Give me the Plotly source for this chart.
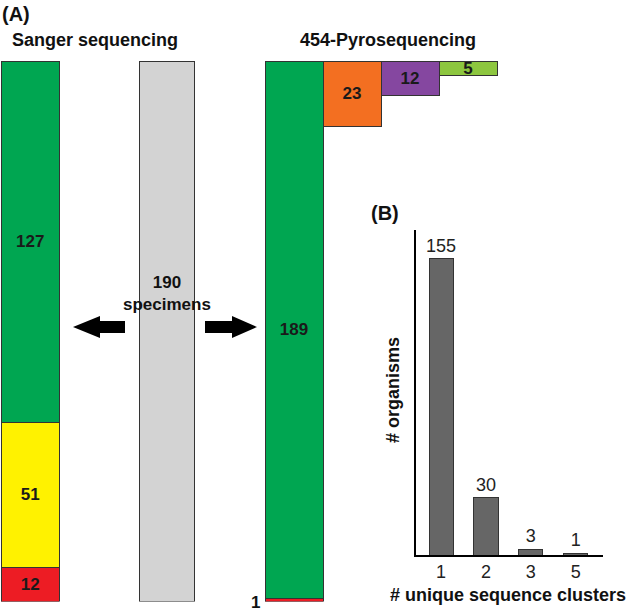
import plotly.graph_objects as go

# panel A counts
total_specimens = 190
sanger_counts = [127, 51, 12]
pyro_counts = [189, 1]
pyro_split = [23, 12, 5]

# panel B
cluster_labels = ["1", "2", "3", "5"]
organisms = [155, 30, 3, 1]

W, H = 628, 614
FONT = "Liberation Sans, Arial, sans-serif"
EDGE = dict(color="#333333", width=1)
NUMFONT = dict(size=17, color="#1a1a1a", weight="bold")


def px(x):
    return x / W


def py(y):
    return 1 - y / H


# column positions in panel A (1 unit = one bar width)
x_sanger, x_all, x_pyro = 0, 2.36, 4.55
x_split = [5.55, 6.55, 7.55]

fig = go.Figure()

sanger_colors = ["#00a651", "#fff200", "#ed1c24"]
for n, c in zip(sanger_counts, sanger_colors):
    fig.add_trace(go.Bar(x=[x_sanger], y=[n], width=1.0, marker=dict(color=c, line=EDGE),
                         text=[str(n)], textposition="inside", insidetextanchor="middle",
                         textangle=0, textfont=NUMFONT))

fig.add_trace(go.Bar(x=[x_all], y=[total_specimens], width=0.95,
                     marker=dict(color="#d3d3d3", line=EDGE)))

pyro_colors = ["#00a651", "#ed1c24"]
for n, c, t in zip(pyro_counts, pyro_colors, [str(pyro_counts[0]), ""]):
    fig.add_trace(go.Bar(x=[x_pyro], y=[n], width=1.0, marker=dict(color=c, line=EDGE),
                         text=[t], textposition="inside", insidetextanchor="middle",
                         textangle=0, textfont=NUMFONT))

split_colors = ["#f36f21", "#8547a0", "#8dc63f"]
for xx, n, c in zip(x_split, pyro_split, split_colors):
    fig.add_trace(go.Bar(x=[xx], y=[n], width=1.0, marker=dict(color=c, line=EDGE),
                         text=[str(n)], textposition="inside", insidetextanchor="middle",
                         textangle=0, textfont=NUMFONT))

fig.add_trace(go.Bar(x=cluster_labels, y=organisms, width=0.54, xaxis="x2", yaxis="y2",
                     marker=dict(color="#666666", line=EDGE),
                     text=[str(v) for v in organisms], textposition="outside", cliponaxis=False,
                     textfont=dict(size=18, color="#222222")))

fig.update_layout(
    width=W, height=H,
    margin=dict(l=0, r=0, t=0, b=0),
    paper_bgcolor="white", plot_bgcolor="rgba(0,0,0,0)",
    barmode="stack", showlegend=False,
    font=dict(family=FONT, color="#111111"),
    uniformtext=dict(minsize=17, mode="show"),
    xaxis=dict(domain=[0, px(500)], range=[-0.52, -0.52 + 500 / 58], visible=False),
    yaxis=dict(domain=[py(601.5), py(61)], range=[total_specimens, 0], visible=False),
    xaxis2=dict(domain=[px(416), px(603)], range=[-0.56, 3.61], anchor="y2",
                showline=True, linecolor="black", linewidth=1.5, ticks="",
                showgrid=False, zeroline=False, tickfont=dict(size=18, color="#222222")),
    yaxis2=dict(domain=[py(555), py(230)], range=[0, 170], anchor="x2",
                showline=True, linecolor="black", linewidth=1.5, showticklabels=False,
                ticks="", showgrid=False, zeroline=False),
)


def label(text, x, y, size=18, angle=0):
    fig.add_annotation(text=text, x=px(x), y=py(y), xref="paper", yref="paper",
                       xanchor="center", yanchor="middle", showarrow=False, textangle=angle,
                       font=dict(size=size, family=FONT, color="#111111"))


label("<b>(A)</b>", 16, 14, size=20)
label("<b>(B)</b>", 385, 213, size=20)
label("<b>Sanger sequencing</b>", 95, 40)
label("<b>454-Pyrosequencing</b>", 388, 40)
label(f"<b>{total_specimens}<br>specimens</b>", 167, 293, size=17)
label("<b># organisms</b>", 393, 390, angle=-90)
label("<b># unique sequence clusters</b>", 508, 595)

# the single odd read next to the thin red slice
fig.add_annotation(text=f"<b>{pyro_counts[1]}</b>", x=x_pyro - 0.5, y=pyro_counts[0] + pyro_counts[1] / 2,
                   xref="x", yref="y", xanchor="right", yanchor="middle", yshift=-2, xshift=-3,
                   showarrow=False, font=dict(size=17, family=FONT, color="#111111"))

# arrows pointing out of the specimen bar
for tip, base, tail in [(73, 100, 125), (257, 232, 205)]:
    yc = 327
    pts = [(tip, yc), (base, yc - 11), (base, yc - 6), (tail, yc - 6),
           (tail, yc + 6), (base, yc + 6), (base, yc + 11)]
    path = "M " + " L ".join(f"{px(a):.5f},{py(b):.5f}" for a, b in pts) + " Z"
    fig.add_shape(type="path", path=path, xref="paper", yref="paper",
                  fillcolor="black", line=dict(color="black", width=0))

fig.write_html("out.html", config={"displayModeBar": False},
               post_script="document.body.style.margin='0';")
